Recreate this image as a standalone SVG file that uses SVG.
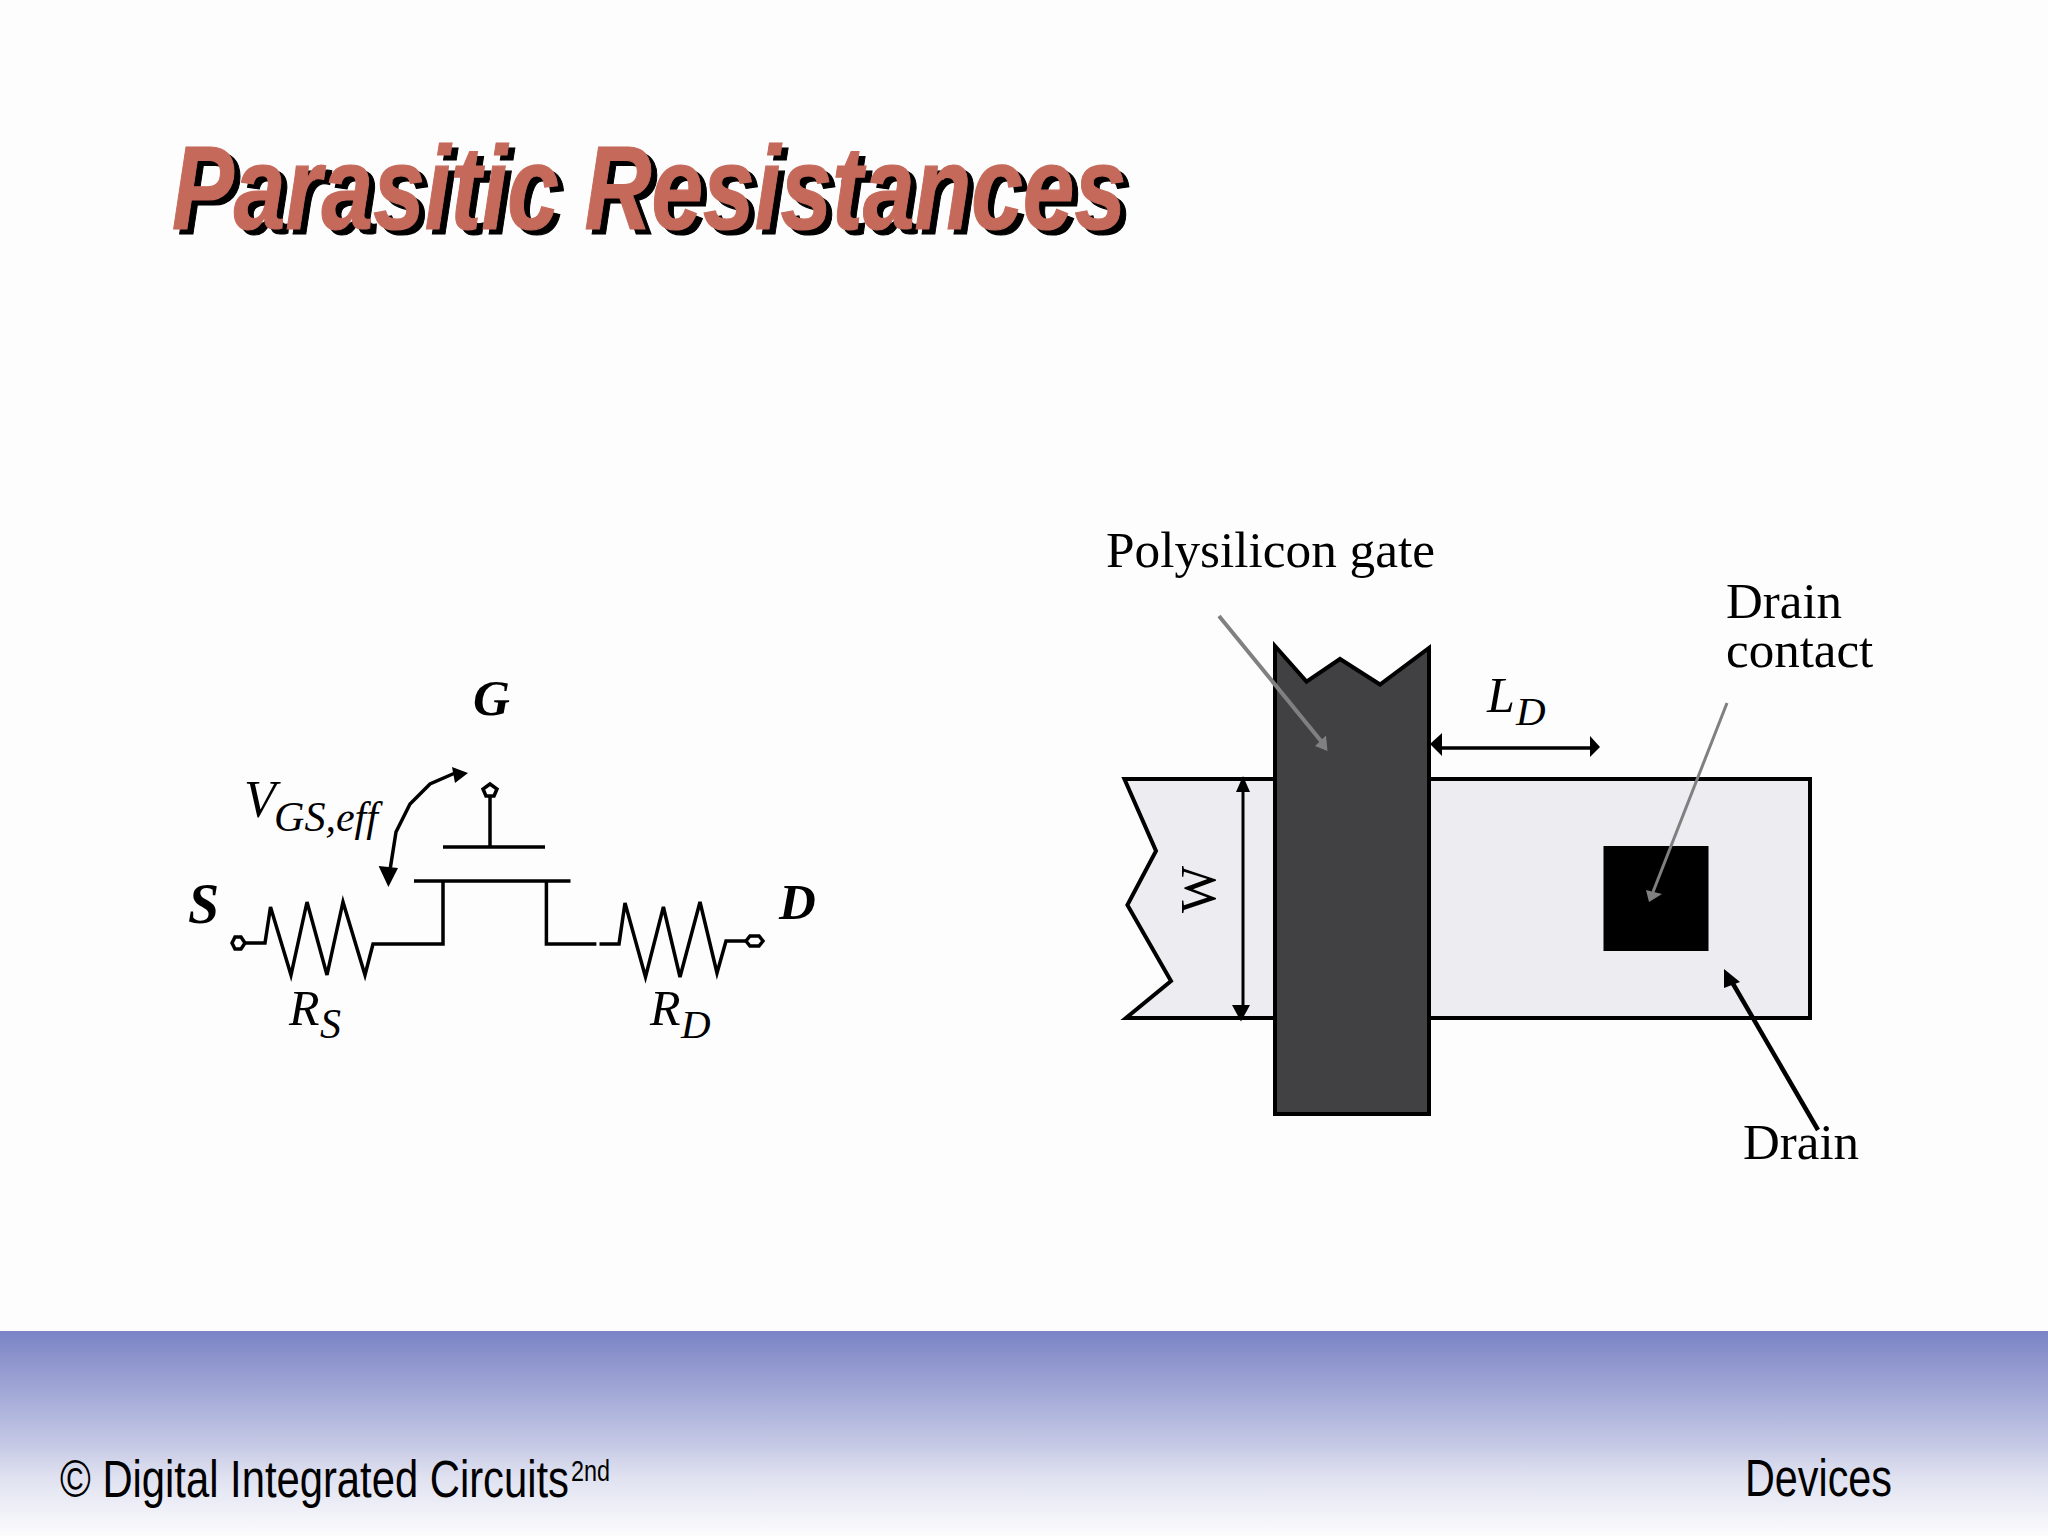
<svg xmlns="http://www.w3.org/2000/svg" width="2048" height="1536" viewBox="0 0 2048 1536">
<defs>
<linearGradient id="band" x1="0" y1="0" x2="0" y2="1">
<stop offset="0" stop-color="#7a84c6"/>
<stop offset="0.15" stop-color="#8f96ce"/>
<stop offset="0.39" stop-color="#aeb4dc"/>
<stop offset="0.55" stop-color="#c5c8e4"/>
<stop offset="0.71" stop-color="#dfe1f0"/>
<stop offset="1" stop-color="#fcfcfd"/>
</linearGradient>
<filter id="hardShadow" x="-5%" y="-20%" width="110%" height="140%" color-interpolation-filters="sRGB">
<feDropShadow dx="6" dy="5" stdDeviation="0" flood-color="#000" flood-opacity="1"/>
</filter>
</defs>
<style>
.t{font-family:"Liberation Serif","Times New Roman",serif;fill:#000}
.i{font-style:italic}
.b{font-weight:bold}
.a{font-family:"Liberation Sans",Arial,sans-serif;fill:#000}
.w{fill:none;stroke:#000;stroke-width:3.5;stroke-linejoin:miter}
.w3{stroke-width:3}
.w5{stroke-width:4.5}
.term{fill:#fff;stroke:#000;stroke-width:3.5}
.o{stroke:#000;stroke-width:4;stroke-linejoin:miter}
.k{fill:#000}
.g{fill:#808080}
</style>
<rect width="2048" height="1536" fill="#fdfdfd"/>
<rect id="footer-band" x="0" y="1331" width="2048" height="205" fill="url(#band)"/>

<g id="title">
<text x="172" y="229" font-family="'Liberation Sans',Arial,sans-serif" font-weight="bold" font-style="italic" font-size="118" fill="#c56a5b" stroke="#c56a5b" stroke-width="1.2" textLength="954" lengthAdjust="spacingAndGlyphs" filter="url(#hardShadow)">Parasitic Resistances</text>
</g>

<g id="drain-region">
<polygon class="o" fill="#edecf0" points="1124.4,779 1156,851 1127.4,905 1171,981 1126,1018 1810,1018 1810,779"/>
</g>
<g id="polysilicon-gate">
<polygon class="o" fill="#414042" points="1275,646 1306.5,681.6 1340,659 1380,684.5 1429,648 1429,1114 1275,1114"/>
</g>
<g id="drain-contact">
<rect x="1603.5" y="846" width="105" height="105" fill="#000"/>
</g>

<g id="connectors">
<g id="transistor-wires">
<path class="w" d="M246,943H265L270.5,907L291,975L307,902L327,975L343,902L365,975L373,944H443V881"/>
<path class="w" d="M414,881H570.5"/>
<path class="w" d="M443,847H545"/>
<path class="w" d="M490,847V796"/>
<path class="w" d="M546.4,881V944H596.4"/>
<path class="w" d="M599.5,944H619L625,903L645.5,977L663.4,907L680,977L700,902L717,973L726,941H746"/>
</g>
<g id="vgs-arrow">
<path class="w" d="M390,870L396,832L410,804L430,784L455,773"/>
<polygon class="k" points="468,773 452,767 455,783"/>
<polygon class="k" points="388.4,887 378.6,866 398,868"/>
</g>
<g id="w-dimension">
<path class="w w3" d="M1243,790V1006"/>
<polygon class="k" points="1243,776 1236,792 1250,792"/>
<polygon class="k" points="1241,1021.6 1232,1005 1250,1005"/>
</g>
<g id="ld-dimension">
<path class="w" d="M1440,748H1592"/>
<polygon class="k" points="1430,744 1442,733 1442,756"/>
<polygon class="k" points="1600,747 1590,736 1590,757"/>
</g>
<g id="gate-pointer">
<path fill="none" stroke="#808080" stroke-width="4" d="M1219,616L1321,741"/>
<polygon class="g" points="1327.5,751 1315,746 1326,735.5"/>
</g>
<g id="contact-pointer">
<path fill="none" stroke="#808080" stroke-width="3" d="M1727,703L1653,892"/>
<polygon class="g" points="1649,902 1646,890 1662,894"/>
</g>
<g id="drain-pointer">
<path class="w w5" d="M1818,1130L1732,982"/>
<polygon class="k" points="1724,969 1724,988 1740,982"/>
</g>
</g>

<g id="source-terminal"><polygon class="term" points="232,943 235,937 241,937 245,943 241,949 235,949"/></g>
<g id="gate-terminal"><polygon class="term" points="490,784 497,789 494,796 486,796 483,789"/></g>
<g id="drain-terminal"><polygon class="term" points="746,941 750,936 759,936 763,941 759,946 750,946"/></g>

<g id="label-g"><text class="t i b" x="473" y="715" font-size="51">G</text></g>
<g id="label-s"><text class="t i b" x="188" y="923" font-size="56">S</text></g>
<g id="label-d"><text class="t i b" x="779" y="919" font-size="51">D</text></g>
<g id="label-vgs"><text class="t i" x="244" y="817" font-size="52">V</text><text class="t i" x="274" y="831" font-size="42" textLength="104" lengthAdjust="spacingAndGlyphs">GS,eff</text></g>
<g id="label-rs"><text class="t i" x="289" y="1025" font-size="50">R</text><text class="t i" x="320" y="1038" font-size="42">S</text></g>
<g id="label-rd"><text class="t i" x="650" y="1025" font-size="50">R</text><text class="t i" x="681" y="1038" font-size="41">D</text></g>
<g id="label-ld"><text class="t i" x="1487" y="712" font-size="50">L</text><text class="t i" x="1516" y="725" font-size="41">D</text></g>
<g id="label-w"><text class="t" transform="translate(1215,913) rotate(-90)" font-size="50">W</text></g>
<g id="label-poly"><text class="t" x="1106" y="567" font-size="50" textLength="329" lengthAdjust="spacingAndGlyphs">Polysilicon gate</text></g>
<g id="label-contact"><text class="t" font-size="51"><tspan x="1726" y="618">Drain</tspan><tspan x="1726" y="667">contact</tspan></text></g>
<g id="label-drain"><text class="t" x="1743" y="1159" font-size="51">Drain</text></g>

<g id="footer">
<text class="a" x="60" y="1497" font-size="51"><tspan textLength="509" lengthAdjust="spacingAndGlyphs">© Digital Integrated Circuits</tspan><tspan x="571" y="1481" font-size="30" textLength="39" lengthAdjust="spacingAndGlyphs">2nd</tspan></text>
<text class="a" x="1745" y="1496" font-size="51" textLength="147" lengthAdjust="spacingAndGlyphs">Devices</text>
</g>
</svg>
